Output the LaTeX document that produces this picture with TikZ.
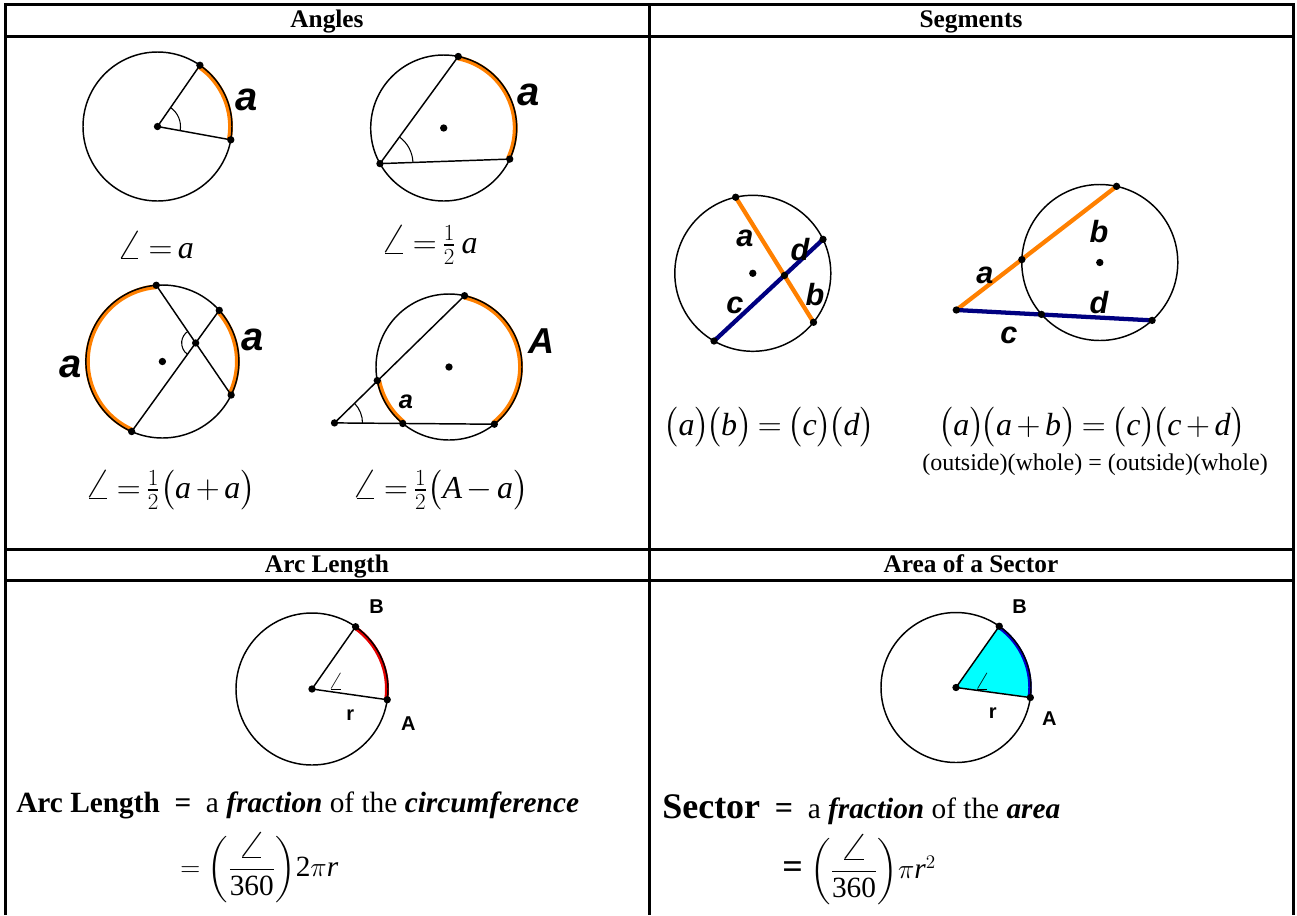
\documentclass[tikz,border=0pt]{standalone}
\usepackage{fontspec}
\usepackage{amsmath}
\usepackage{graphicx}
\setmainfont{Liberation Serif}
\newfontfamily\arialf{Liberation Sans}
\usetikzlibrary{calc}
\definecolor{myorange}{RGB}{255,128,0}
\definecolor{mynavy}{RGB}{0,0,128}
\definecolor{myred}{RGB}{230,0,0}
\definecolor{mycyan}{RGB}{0,255,255}
\definecolor{myblue}{RGB}{0,0,205}
\newcommand{\mi}[1]{\mbox{\itshape #1}}
\newcommand{\ang}{\mbox{\scalebox{1.5}[1.3]{$\angle$}}}
\newcommand{\bigang}{\mbox{\scalebox{2.0}[1.4]{$\angle$}}}
\newcommand{\pl}{\mkern-2mu\bigl(}
\newcommand{\tightmath}{\thickmuskip=3mu plus 1mu\medmuskip=2.5mu plus 1mu}
\tikzset{
  tablerule/.style={line width=2.25pt},
  circ/.style={line width=1.1pt},
  chord/.style={line width=1.1pt},
  hl/.style={line width=3.6pt, myorange},
  segO/.style={line width=3.2pt, myorange},
  segB/.style={line width=3.2pt, mynavy},
  angarc/.style={line width=0.8pt},
  dot/.style={circle, fill=black, inner sep=0pt, minimum size=5.5pt},
  lab/.style={font=\fontsize{30}{30}\selectfont\arialf\bfseries\itshape, inner sep=0pt},
  slab/.style={font=\fontsize{23}{23}\selectfont\arialf\bfseries\itshape, inner sep=0pt},
  plab/.style={font=\fontsize{15}{15}\selectfont\arialf\bfseries, inner sep=0pt},
  head/.style={font=\fontsize{19}{21}\selectfont\bfseries, inner sep=0pt, anchor=base},
  eq/.style={font=\fontsize{24}{28}\selectfont\tightmath, inner sep=0pt},
  body/.style={font=\fontsize{22}{26}\selectfont, inner sep=0pt},
}
\begin{document}
\begin{tikzpicture}[x=0.75pt,y=-0.75pt]
\useasboundingbox (0,0) rectangle (1297,915);
% ---------------- table ----------------
\draw[tablerule] (5,915) -- (5,4) -- (1293,4) -- (1293,915);
\draw[tablerule] (649,4) -- (649,915);
\draw[tablerule] (5,36) -- (1293,36);
\draw[tablerule] (5,549) -- (1293,549);
\draw[tablerule] (5,580) -- (1293,580);
\node[head] (h1) at (327,27) {Angles};
\node[head] (h2) at (971,27) {Segments};
\node[head] (h3) at (327,572) {Arc Length};
\node[head] (h4) at (971,572) {Area of a Sector};

% ---------------- Fig 1: central angle ----------------
\coordinate (c1) at (157.5,126.5);
\draw[hl] ($(c1)+(10.3:73)$) arc[start angle=10.3, end angle=-55.3, radius=73];
\draw[circ] (c1) circle (74.5);
\node[dot] (o1) at (c1) {};
\node[dot] (b1) at ($(c1)+(-55.3:74.5)$) {};
\node[dot] (a1) at ($(c1)+(10.3:74.5)$) {};
\draw[chord] (o1.center) -- (b1.center);
\draw[chord] (o1.center) -- (a1.center);
\draw[angarc] ($(c1)+(10.3:23)$) arc[start angle=10.3, end angle=-55.3, radius=23];
\node[lab] (la1) at (247,100) {a};
\node[eq] (e1) at (155,245) {$\ang = \mi{a}$};

% ---------------- Fig 2: inscribed angle ----------------
\coordinate (c2) at (443.7,128);
\draw[hl] ($(c2)+(-78.5:71.5)$) arc[start angle=-78.5, end angle=25.2, radius=71.5];
\draw[circ] (c2) circle (73);
\node[dot] (o2) at (c2) {};
\node[dot] (t2) at ($(c2)+(-78.5:73)$) {};
\node[dot] (l2) at ($(c2)+(150.8:73)$) {};
\node[dot] (r2) at ($(c2)+(25.2:73)$) {};
\draw[chord] (l2.center) -- (t2.center);
\draw[chord] (l2.center) -- (r2.center);
\draw[angarc] ($(l2)+(-53.85:33)$) arc[start angle=-53.85, end angle=-2, radius=33];
\node[lab] (la2) at (528.6,95) {a};
\node[eq] (e2) at (429,245) {$\ang = \tfrac{1}{2}\,\mi{a}$};

% ---------------- Fig 3: two chords ----------------
\coordinate (c3) at (162.4,361.5);
\draw[hl] ($(c3)+(113.7:75)$) arc[start angle=113.7, end angle=265.4, radius=75];
\draw[hl] ($(c3)+(-42:75)$) arc[start angle=-42, end angle=26, radius=75];
\draw[circ] (c3) circle (76.5);
\node[dot] (o3) at (c3) {};
\node[dot] (p31) at ($(c3)+(-94.6:76.5)$) {};
\node[dot] (p32) at ($(c3)+(-42:76.5)$) {};
\node[dot] (p33) at ($(c3)+(26:76.5)$) {};
\node[dot] (p34) at ($(c3)+(113.7:76.5)$) {};
\draw[chord] (p31.center) -- (p33.center);
\draw[chord] (p32.center) -- (p34.center);
\node[dot] (x3) at (intersection of p31--p33 and p32--p34) {};
\draw[angarc] ($(x3)+(125.85:14)$) arc[start angle=125.85, end angle=235.7, radius=14];
\node[lab] (la3) at (70.5,366.7) {a};
\node[lab] (la4) at (253,340) {a};
\node[eq] (e3) at (170,490) {$\ang = \tfrac{1}{2}\bigl(\mi{a} + \mi{a}\bigr)$};

% ---------------- Fig 4: two secants ----------------
\coordinate (c4) at (449,367);
\draw[hl] ($(c4)+(-77.7:71.5)$) arc[start angle=-77.7, end angle=51.6, radius=71.5];
\draw[hl] ($(c4)+(129.3:71.5)$) arc[start angle=129.3, end angle=169.3, radius=71.5];
\draw[circ] (c4) circle (73);
\node[dot] (o4) at (c4) {};
\node[dot] (t4) at ($(c4)+(-77.7:73)$) {};
\node[dot] (m4) at ($(c4)+(169.3:73)$) {};
\node[dot] (b4) at ($(c4)+(129.3:73)$) {};
\node[dot] (e4) at ($(c4)+(51.6:73)$) {};
\node[dot] (v4) at (334.5,422.9) {};
\draw[chord] (v4.center) -- (t4.center);
\draw[chord] (v4.center) -- (e4.center);
\draw[angarc] ($(v4)+(-44.4:28)$) arc[start angle=-44.4, end angle=0.5, radius=28];
\node[lab, font=\fontsize{27}{27}\selectfont\arialf\bfseries\itshape] (la5) at (541,341) {A};
\node[slab, font=\fontsize{19}{19}\selectfont\arialf\bfseries\itshape] (la6) at (406,402) {a};
\node[eq] (e4q) at (440,490) {$\ang = \tfrac{1}{2}\bigl(\mi{A} - \mi{a}\bigr)$};

% ---------------- Fig 5: intersecting chords ----------------
\coordinate (c5) at (752.8,273.3);
\draw[circ] (c5) circle (78);
\coordinate (p51) at ($(c5)+(-102.7:78)$);
\coordinate (p52) at ($(c5)+(38.9:78)$);
\coordinate (q51) at ($(c5)+(119.8:78)$);
\coordinate (q52) at ($(c5)+(-25.8:78)$);
\draw[segO] (p51) -- (p52);
\draw[segB] (q51) -- (q52);
\node[dot] (d51) at (p51) {};
\node[dot] (d52) at (p52) {};
\node[dot] (d53) at (q51) {};
\node[dot] (d54) at (q52) {};
\node[dot] (x5) at (intersection of p51--p52 and q51--q52) {};
\node[dot] (o5) at (c5) {};
\node[slab] (s5a) at (745,238) {a};
\node[slab] (s5d) at (800,250) {d};
\node[slab] (s5c) at (735,305) {c};
\node[slab] (s5b) at (815,295) {b};
\node[eq] (e5) at (769,427) {$\bigl(\mi{a}\bigr)\pl\mi{b}\bigr) = \bigl(\mi{c}\bigr)\pl\mi{d}\bigr)$};

% ---------------- Fig 6: two secants from outside ----------------
\coordinate (c6) at (1099.8,262.5);
\draw[circ] (c6) circle (78);
\coordinate (v6c) at (956.3,310);
\coordinate (t6c) at ($(c6)+(-77.6:78)$);
\coordinate (e6c) at ($(c6)+(47.9:78)$);
\draw[segO] (v6c) -- (t6c);
\draw[segB] (v6c) -- (e6c);
\node[dot] (v6) at (v6c) {};
\node[dot] (t6) at (t6c) {};
\node[dot] (e6) at (e6c) {};
\node[dot] (n6) at (1021.85,259.55) {};
\node[dot] (m6) at (1041.5,314.4) {};
\node[dot] (o6) at (c6) {};
\node[slab] (s6a) at (985,275) {a};
\node[slab] (s6b) at (1099,232) {b};
\node[slab] (s6d) at (1099,303) {d};
\node[slab] (s6c) at (1009,335) {c};
\node[eq] (e6q) at (1092,427) {$\bigl(\mi{a}\bigr)\pl\mi{a}+\mi{b}\bigr) = \bigl(\mi{c}\bigr)\pl\mi{c}+\mi{d}\bigr)$};
\node[inner sep=0pt, font=\fontsize{18}{20}\selectfont] (e7) at (1095,465) {(outside)(whole) = (outside)(whole)};

% ---------------- Fig 7: arc length ----------------
\coordinate (c7) at (312,689);
\draw[line width=3pt, myred] ($(c7)+(-55:75)$) arc[start angle=-55, end angle=8.1, radius=75];
\draw[circ] (c7) circle (76);
\node[dot] (o7) at (c7) {};
\node[dot] (b7) at ($(c7)+(-55:76)$) {};
\node[dot] (a7) at ($(c7)+(8.1:76)$) {};
\draw[chord] (o7.center) -- (b7.center);
\draw[chord] (o7.center) -- (a7.center);
\node[plab] (lb7) at (376.5,606.7) {B};
\node[plab] (la7) at (408.4,724) {A};
\node[plab] (lr7) at (350.3,715) {r};
\node[inner sep=0pt, font=\fontsize{14}{14}\selectfont] (ang7) at (335.8,681.7) {\ang};
\node[body, anchor=west] (t71) at (16,805) {\textbf{Arc Length}\ \ \textbf{=}\ \ a \textbf{\textit{fraction}} of the \textbf{\textit{circumference}}};
\node[body, anchor=west] (t72) at (180,868) {$= \left(\dfrac{\bigang}{\mbox{360}}\right)\!\mbox{2}\pi \mi{r}$};

% ---------------- Fig 8: sector ----------------
\coordinate (c8) at (956,687.5);
\fill[mycyan] (c8) -- ($(c8)+(-54.8:75)$) arc[start angle=-54.8, end angle=7.7, radius=75] -- cycle;
\draw[line width=2.6pt, myblue] ($(c8)+(-54.8:74)$) arc[start angle=-54.8, end angle=7.7, radius=74];
\draw[circ] (c8) circle (75);
\node[dot] (o8) at (c8) {};
\node[dot] (b8) at ($(c8)+(-54.8:75)$) {};
\node[dot] (a8) at ($(c8)+(7.7:75)$) {};
\draw[chord] (o8.center) -- (b8.center);
\draw[chord] (o8.center) -- (a8.center);
\node[plab] (lb8) at (1019.6,606.7) {B};
\node[plab] (la8) at (1049.4,718.3) {A};
\node[plab] (lr8) at (992.7,712.7) {r};
\node[inner sep=0pt, font=\fontsize{14}{14}\selectfont] (ang8) at (982.4,681.7) {\ang};
\node[body, anchor=west] (t81) at (662,810) {{\fontsize{27}{30}\selectfont\bfseries Sector}\ \ {\fontsize{24}{26}\selectfont\bfseries =}\ \ a \textbf{\textit{fraction}} of the \textbf{\textit{area}}};
\node[body, anchor=west] (t82) at (782,870) {{\fontsize{27}{30}\selectfont\bfseries =}\ $\left(\dfrac{\bigang}{\mbox{360}}\right)\!\pi \mi{r}^{2}$};
\end{tikzpicture}
\end{document}
